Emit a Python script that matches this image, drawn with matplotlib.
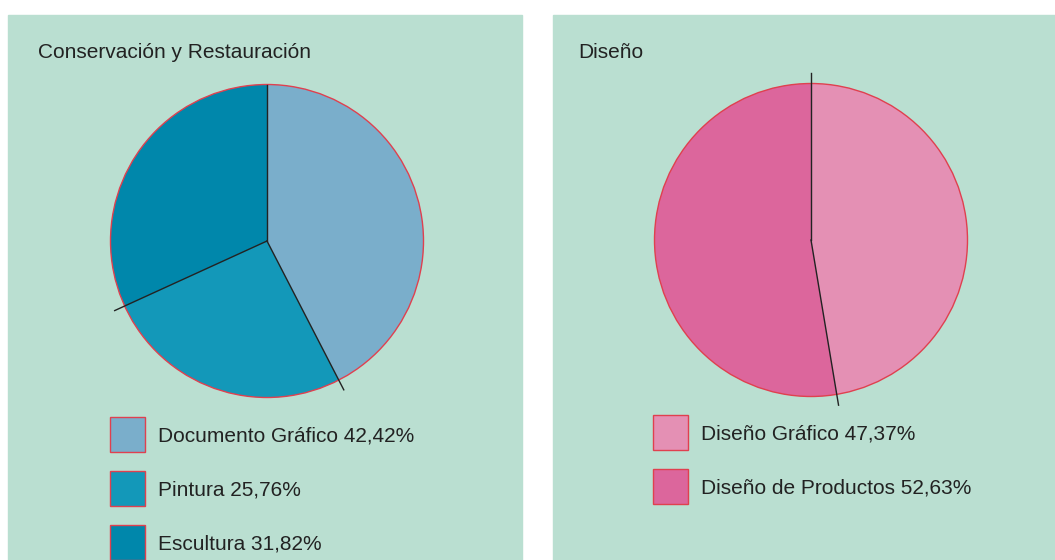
import matplotlib.pyplot as plt
import matplotlib.patches as mpatches
import numpy as np

plt.rc('font', family=['Liberation Sans', 'DejaVu Sans'], size=15)

# data
cr_title = 'Conservación y Restauración'
cr_labels = ['Documento Gráfico', 'Pintura', 'Escultura']
cr_values = [42.42, 25.76, 31.82]
cr_colors = ['#7aaecb', '#1398b9', '#0087ab']

dis_title = 'Diseño'
dis_labels = ['Diseño Gráfico', 'Diseño de Productos']
dis_values = [47.37, 52.63]
dis_colors = ['#e490b4', '#dc669c']

bg = '#badfd1'
edge_red = '#e0404f'
W, H = 1055, 560

fig = plt.figure(figsize=(W / 100, H / 100), dpi=100)
ax = fig.add_axes([0, 0, 1, 1])
ax.set_xlim(0, W)
ax.set_ylim(0, H)
ax.set_aspect('equal')
ax.axis('off')


def fmt(v):
    return f'{v:.2f}'.replace('.', ',') + '%'


def panel(x0, x1, title, title_x, labels, values, colors, cx, cy, r, ext, leg_x, leg_y):
    # background panel (pixel coords, y from top)
    ax.add_patch(mpatches.Rectangle((x0, 0), x1 - x0, H - 15, color=bg, zorder=0))
    ax.text(title_x, H - 53, title, ha='left', va='center', color='#222222')

    wedges, _ = ax.pie(values, colors=colors, startangle=90, counterclock=False,
                       center=(cx, H - cy), radius=r, frame=True,
                       wedgeprops=dict(linewidth=0))
    ax.add_patch(mpatches.Circle((cx, H - cy), r, fill=False, ec=edge_red, lw=1, zorder=3))

    # radial separators
    bounds = np.concatenate([[0], np.cumsum(values)[:-1]]) / np.sum(values) * 360
    for b, e in zip(bounds, ext):
        a = np.deg2rad(90 - b)
        ax.plot([cx, cx + r * e * np.cos(a)], [H - cy, H - cy + r * e * np.sin(a)],
                color='#222222', lw=1, zorder=4)

    # legend
    for i, (lab, v, c) in enumerate(zip(labels, values, colors)):
        y = leg_y + i * 54
        ax.add_patch(mpatches.Rectangle((leg_x, H - y - 35), 35, 35, fc=c,
                                        ec=edge_red, lw=1, zorder=3))
        ax.text(leg_x + 48, H - y - 19.5, f'{lab} {fmt(v)}', ha='left', va='center',
                color='#222222')


panel(8, 522, cr_title, 38, cr_labels, cr_values, cr_colors,
      267, 241, 156.5, [1.0, 1.07, 1.07], 110, 417)
panel(553, W, dis_title, 578, dis_labels, dis_values, dis_colors,
      811, 240, 156.5, [1.07, 1.07], 653, 415)

ax.set_xlim(0, W)
ax.set_ylim(0, H)
ax.axis('off')

plt.savefig('out.png', dpi=100)
